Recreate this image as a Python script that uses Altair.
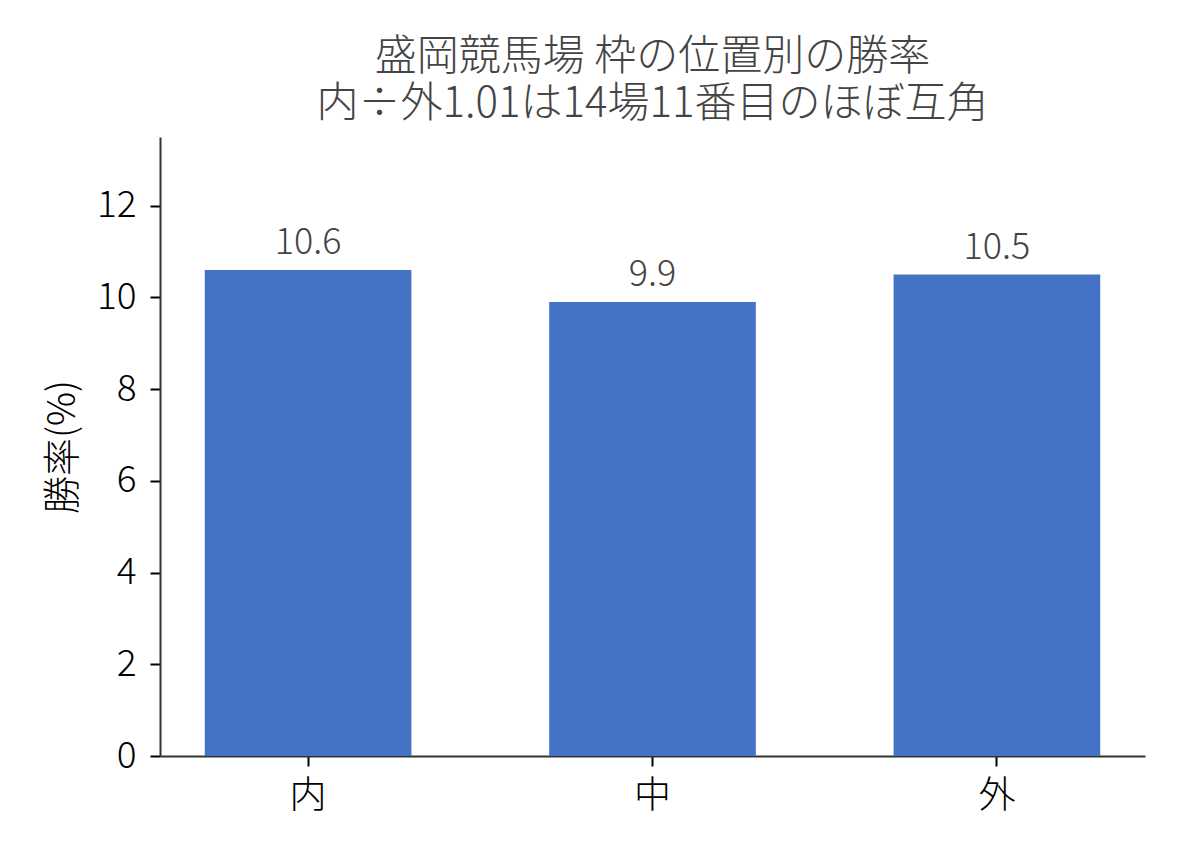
import altair as alt
import pandas as pd

categories = ["内", "中", "外"]
win_rates = [10.6, 9.9, 10.5]
labels = ["10.6", "9.9", "10.5"]

df = pd.DataFrame({"枠": categories, "勝率": win_rates, "label": labels})

FONT = "Noto Sans CJK JP"

base = alt.Chart(df).encode(
    x=alt.X("枠:N", sort=categories,
            scale=alt.Scale(paddingInner=0.4, paddingOuter=0.13),
            axis=alt.Axis(title=None, labelAngle=0, labelFontSize=37, labelColor="#000",
                          labelFont=FONT, labelFontWeight=300, tickSize=10, tickColor="#000", tickWidth=2,
                          domainColor="#333", domainWidth=2, labelPadding=12)),
    y=alt.Y("勝率:Q",
            scale=alt.Scale(domain=[0, 13.5], nice=False),
            axis=alt.Axis(title="勝率(%)", values=[0, 2, 4, 6, 8, 10, 12], grid=False,
                          labelFontSize=37, labelColor="#000", labelFont=FONT, labelFontWeight=300,
                          titleFont=FONT, titleFontSize=38, titleFontWeight=300,
                          titleColor="#000", titlePadding=14,
                          tickSize=10, tickColor="#000", tickWidth=2,
                          domainColor="#333", domainWidth=2, labelPadding=14)),
)

bars = base.mark_bar(color="#4472C4")
text = base.mark_text(dy=-8, baseline="bottom", fontSize=36, font=FONT, fontWeight=300,
                      color="#444").encode(text="label:N")

chart = (bars + text).properties(
    width=985, height=619,
    background="white",
    autosize=alt.AutoSizeParams(type="none"),
    padding={"left": 152, "top": 129, "right": 35, "bottom": 90},
    title=alt.TitleParams(
        text=["盛岡競馬場 枠の位置別の勝率", "内÷外1.01は14場11番目のほぼ互角"],
        font=FONT, fontSize=42, fontWeight=300, color="#444",
        lineHeight=47, offset=11, anchor="middle"),
).configure_view(stroke="transparent", strokeWidth=0)

chart.save("out.html", embed_options={"renderer": "svg", "actions": False})
